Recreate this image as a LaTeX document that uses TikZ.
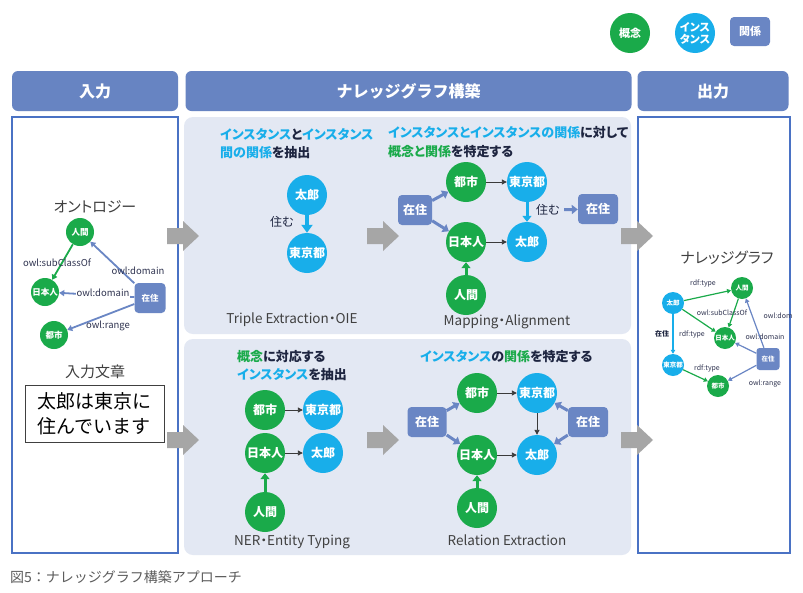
\documentclass[tikz,border=0pt]{standalone}
\usepackage{fontspec}
\setmainfont{Noto Sans CJK JP}
\newfontfamily\pfont{Noto Sans CJK JP}[RawFeature=+palt]
\usetikzlibrary{arrows.meta}
\definecolor{cgreen}{HTML}{1AAA4A}
\definecolor{ccyan}{HTML}{18AEEA}
\definecolor{crel}{HTML}{6A86C4}
\definecolor{chead}{HTML}{6784C2}
\definecolor{cborder}{HTML}{4A72C4}
\definecolor{cpanel}{HTML}{E3E8F3}
\definecolor{cdark}{HTML}{1E2540}
\definecolor{cgray}{HTML}{A6A6A6}
\definecolor{ctext}{HTML}{404040}
\definecolor{clbl}{HTML}{2F3350}
\definecolor{carrow}{HTML}{3A3A3A}
\newcommand\tcy[1]{{\color{ccyan}#1}}
\newcommand\tgr[1]{{\color{cgreen}#1}}
\newcommand\tdk[1]{{\color{cdark}#1}}
\tikzset{
  head/.style={fill=chead, rounded corners=6pt, text=white, font=\bfseries\fontsize{16}{18}\selectfont, minimum height=40pt, inner sep=0pt},
  sidepanel/.style={draw=cborder, line width=1.6pt, fill=white, inner sep=0pt},
  midpanel/.style={fill=cpanel, rounded corners=9pt, inner sep=0pt},
  concept/.style={circle, fill=cgreen, text=white, font=\bfseries\fontsize{12}{14}\selectfont, minimum size=40pt, inner sep=0pt},
  inst/.style={concept, fill=ccyan},
  rel/.style={fill=crel, rounded corners=4pt, text=white, font=\bfseries\fontsize{12}{14}\selectfont, minimum height=30pt, inner sep=0pt},
  conceptS/.style={concept, minimum size=28pt, font=\bfseries\fontsize{8.5}{10}\selectfont},
  relS/.style={rel, font=\bfseries\fontsize{8.5}{10}\selectfont},
  conceptXS/.style={concept, minimum size=22pt, font=\bfseries\fontsize{6.5}{8}\selectfont},
  instXS/.style={conceptXS, fill=ccyan},
  relXS/.style={rel, minimum width=23pt, minimum height=22pt, rounded corners=3pt, font=\bfseries\fontsize{6.5}{8}\selectfont},
  heading/.style={anchor=west, inner sep=0pt, font=\pfont\bfseries\fontsize{13}{15}\selectfont, text=cdark},
  method/.style={font=\pfont\fontsize{13.5}{15}\selectfont, text=ctext, inner sep=0pt},
  ttl/.style={font=\pfont\fontsize{15}{17}\selectfont, text=ctext, inner sep=0pt},
  lbl/.style={font=\fontsize{9.5}{11}\selectfont, text=clbl, inner sep=1pt},
  lblS/.style={font=\fontsize{7}{8}\selectfont, text=clbl, inner sep=0.5pt},
  thinarr/.style={draw=carrow, line width=0.9pt, -{Triangle[length=5pt,width=5pt]}},
  garr/.style={draw=cgreen, line width=3pt, -{Triangle[length=6pt,width=9pt]}},
  carr/.style={garr, draw=ccyan},
  barr/.style={garr, draw=crel},
  garrS/.style={draw=cgreen, line width=1.8pt, -{Triangle[length=5pt,width=6pt]}},
  barrS/.style={garrS, draw=crel},
  garrXS/.style={draw=cgreen, line width=1.2pt, -{Triangle[length=4pt,width=4.5pt]}},
  carrXS/.style={garrXS, draw=ccyan},
  barrXS/.style={garrXS, draw=crel},
  garrow/.pic={\fill[cgray] (0,-8) -- (16,-8) -- (16,-15) -- (32,0) -- (16,15) -- (16,8) -- (0,8) -- cycle;}
}
\begin{document}
\begin{tikzpicture}[x=1pt,y=-1pt]
\useasboundingbox[fill=white] (0,0) rectangle (803,592);

% legend
\node[concept, font=\bfseries\fontsize{11}{12}\selectfont] (lg1) at (630,33) {概念};
\node[inst, align=center, font=\pfont\bfseries\fontsize{11}{12}\selectfont] (lg2) at (695,33) {インス\\タンス};
\node[rel, minimum width=40pt, minimum height=29pt, font=\bfseries\fontsize{11}{12}\selectfont] (lg3) at (750,31.5) {関係};

% headers
\node[head, minimum width=166pt] (hin) at (95,91) {入力};
\node[head, minimum width=446pt] (hkg) at (408.5,91) {ナレッジグラフ構築};
\node[head, minimum width=151pt] (hout) at (713,91) {出力};

% panels
\node[sidepanel, minimum width=166pt, minimum height=436pt] (pin) at (95,335) {};
\node[sidepanel, minimum width=152pt, minimum height=436pt] (pout) at (714,335) {};
\node[midpanel, minimum width=447pt, minimum height=217pt] (ptop) at (407.5,225.5) {};
\node[midpanel, minimum width=447pt, minimum height=216pt] (pbot) at (407.5,447) {};

% gray arrows
\pic at (167,236) {garrow};
\pic at (167,440) {garrow};
\pic at (367,236) {garrow};
\pic at (367,440) {garrow};
\pic at (621,236) {garrow};
\pic at (621,440) {garrow};

% ---------- input panel ----------
\node[ttl] (onto) at (95,207) {オントロジー};
\node[conceptS] (L-ningen) at (80,232) {人間};
\node[conceptS] (L-nihon) at (45,292) {日本人};
\node[conceptS] (L-toshi) at (54,335) {都市};
\node[relS, minimum width=31pt] (L-zai) at (150,298) {在住};
\draw[garrS] (L-ningen) -- (L-nihon);
\draw[barrS] (L-zai) -- (L-ningen);
\draw[barrS] (L-zai) -- (L-nihon);
\draw[barrS] (L-zai) -- (L-toshi);
\node[lbl] (l1) at (57,263) {owl:subClassOf};
\node[lbl] (l2) at (138,271) {owl:domain};
\node[lbl, fill=white] (l3) at (103,293) {owl:domain};
\node[lbl] (l4) at (108,326) {owl:range};

\node[ttl] (bunsho) at (95,372) {入力文章};
\node[draw=ctext, line width=0.8pt, fill=white, minimum width=139pt, minimum height=57pt, align=left, inner sep=4pt, font=\fontsize{19}{25}\selectfont, text=black] (sent) at (94.5,413.5) {太郎は東京に\\住んでいます};

% ---------- top-left: triple extraction ----------
\node[heading] (h1a) at (220,134) {\tcy{インスタンス}\tdk{と}\tcy{インスタンス}};
\node[heading] (h1b) at (220,153) {\tcy{間の関係}\tdk{を抽出}};
\node[inst] (A-taro) at (307,195) {太郎};
\node[inst] (A-tokyo) at (307,253) {東京都};
\draw[carr, line width=3.5pt, -{Triangle[length=8pt,width=11pt]}] (A-taro) -- (A-tokyo);
\node[font=\fontsize{12}{14}\selectfont, text=cdark] (A-sumu) at (282,222) {住む};
\node[method] (m1) at (292,320) {Triple Extraction・OIE};

% ---------- top-right: mapping ----------
\node[heading] (h2a) at (388,133) {\tcy{インスタンスとインスタンスの関係}\tdk{に対して}};
\node[heading] (h2b) at (388,152) {\tgr{概念と関係}\tdk{を特定する}};
\node[concept] (B-toshi) at (466,182) {都市};
\node[inst] (B-tokyo) at (527,182) {東京都};
\node[concept] (B-nihon) at (466,242) {日本人};
\node[inst] (B-taro) at (527,242) {太郎};
\node[concept] (B-ningen) at (466,295) {人間};
\node[rel, minimum width=34pt] (B-zai) at (415,210) {在住};
\node[rel, minimum width=40pt] (B-zai2) at (598,209) {在住};
\node[font=\fontsize{12}{14}\selectfont, text=cdark, inner sep=1pt] (B-sumu) at (548,210) {住む};
\draw[barr] (B-zai) -- (B-toshi);
\draw[barr] (B-zai) -- (B-nihon);
\draw[thinarr] (B-toshi) -- (B-tokyo);
\draw[thinarr] (B-nihon) -- (B-taro);
\draw[carr] (B-tokyo) -- (B-taro);
\draw[garr] (B-ningen) -- (B-nihon);
\draw[barr, shorten <=3pt] (B-sumu) -- (B-zai2);
\node[method] (m2) at (507,322) {Mapping・Alignment};

% ---------- bottom-left: NER ----------
\node[heading] (h3a) at (237,357) {\tgr{概念}\tdk{に対応する}};
\node[heading] (h3b) at (237,375) {\tcy{インスタンス}\tdk{を抽出}};
\node[concept] (C-toshi) at (265,410) {都市};
\node[inst] (C-tokyo) at (323,410) {東京都};
\node[concept] (C-nihon) at (265,453) {日本人};
\node[inst] (C-taro) at (323,453) {太郎};
\node[concept] (C-ningen) at (265,512) {人間};
\draw[thinarr] (C-toshi) -- (C-tokyo);
\draw[thinarr] (C-nihon) -- (C-taro);
\draw[garr] (C-ningen) -- (C-nihon);
\node[method] (m3) at (292,542) {NER・Entity Typing};

% ---------- bottom-right: relation extraction ----------
\node[heading] (h4a) at (420,357) {\tcy{インスタンス}\tdk{の}\tgr{関係}\tdk{を特定する}};
\node[concept] (D-toshi) at (477,393) {都市};
\node[inst] (D-tokyo) at (537,393) {東京都};
\node[concept] (D-nihon) at (477,455) {日本人};
\node[inst] (D-taro) at (537,455) {太郎};
\node[concept] (D-ningen) at (477,508) {人間};
\node[rel, minimum width=39pt] (D-zai) at (427,422) {在住};
\node[rel, minimum width=40pt] (D-zai2) at (588,422) {在住};
\draw[barr] (D-zai) -- (D-toshi);
\draw[barr] (D-zai) -- (D-nihon);
\draw[barr] (D-zai2) -- (D-tokyo);
\draw[barr] (D-zai2) -- (D-taro);
\draw[thinarr] (D-toshi) -- (D-tokyo);
\draw[thinarr] (D-nihon) -- (D-taro);
\draw[thinarr] (D-tokyo) -- (D-taro);
\draw[garr] (D-ningen) -- (D-nihon);
\node[method] (m4) at (507,540) {Relation Extraction};

% ---------- output panel ----------
\node[ttl] (kgttl) at (727,258) {ナレッジグラフ};
\node[instXS] (E-taro) at (673,303) {太郎};
\node[conceptXS] (E-ningen) at (742,288) {人間};
\node[conceptXS] (E-nihon) at (725,338) {日本人};
\node[instXS] (E-tokyo) at (673,365) {東京都};
\node[conceptXS] (E-toshi) at (718,386) {都市};
\node[relXS] (E-zai) at (768,359) {在住};
\draw[garrXS] (E-taro) -- (E-ningen);
\draw[garrXS] (E-taro) -- (E-nihon);
\draw[garrXS] (E-ningen) -- (E-nihon);
\draw[carrXS] (E-taro) -- (E-tokyo);
\draw[garrXS] (E-tokyo) -- (E-toshi);
\draw[barrXS] (E-zai) -- (E-ningen);
\draw[barrXS] (E-zai) -- (E-nihon);
\draw[barrXS] (E-zai) -- (E-toshi);
\node[lblS] (e1) at (703,283) {rdf:type};
\node[lblS] (e2) at (722,313) {owl:subClassOf};
\node[lblS, anchor=west] (e3) at (763,316) {owl:dom};
\node[lblS, font=\bfseries\fontsize{7}{8}\selectfont, text=cdark] (e4) at (662,334) {在住};
\node[lblS] (e5) at (692,334) {rdf:type};
\node[lblS] (e6) at (765,337) {owl:domain};
\node[lblS] (e7) at (707,368) {rdf:type};
\node[lblS] (e8) at (765,384) {owl:range};

% caption
\node[anchor=west, inner sep=0pt, font=\fontsize{14}{16}\selectfont, text=ctext!85] (cap) at (10,577) {図5：ナレッジグラフ構築アプローチ};
\end{tikzpicture}
\end{document}
